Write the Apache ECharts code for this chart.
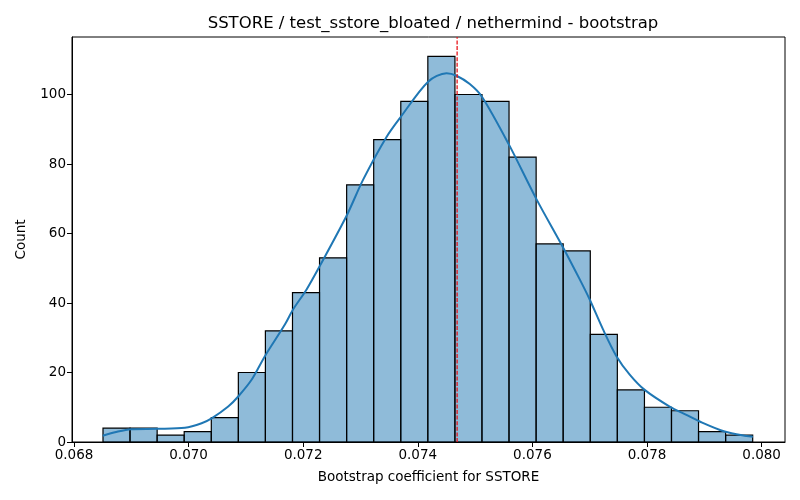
<!DOCTYPE html>
<html>
<head>
<meta charset="utf-8">
<script src="https://cdn.jsdelivr.net/npm/echarts@6/dist/echarts.min.js"></script>
<style>
  html, body { margin: 0; padding: 0; background: #fff; }
  #app { width: 800px; height: 500px; }
</style>
</head>
<body>
<div id="app"></div>
<script>
// bin edges of the histogram (25 edges -> 24 bins)
const binEdges = [
  0.068506, 0.068978, 0.069451, 0.069923, 0.070396, 0.070868, 0.071340,
  0.071813, 0.072285, 0.072758, 0.073230, 0.073703, 0.074175, 0.074648,
  0.075120, 0.075592, 0.076065, 0.076537, 0.077010, 0.077482, 0.077955,
  0.078427, 0.078899, 0.079372, 0.079844
];
const binCounts = [4, 4, 2, 3, 7, 20, 32, 43, 53, 74, 87, 98, 111, 100, 98, 82, 57, 55, 31, 15, 10, 9, 3, 2];

// kde curve
const kdeX = [
  0.068501, 0.068715, 0.068994, 0.069470, 0.069936, 0.070227, 0.070402,
  0.070691, 0.070866, 0.071099, 0.071331, 0.071680, 0.071825, 0.072059,
  0.072291, 0.072757, 0.073046, 0.073454, 0.073704, 0.074180, 0.074501,
  0.074675, 0.074907, 0.075122, 0.075593, 0.076070, 0.076535, 0.076826,
  0.077000, 0.077232, 0.077466, 0.077698, 0.077959, 0.078395, 0.078687,
  0.078919, 0.079355, 0.079733, 0.079848
];
const kdeY = [
  1.8, 2.8, 3.7, 3.8, 4.1, 5.4, 6.8,
  10.2, 13.1, 17.9, 24.7, 33.8, 38.2, 43.9,
  50.7, 65.1, 75.5, 87.8, 93.6, 103.7, 106.1,
  105.4, 103.0, 99.3, 85.5, 69.9, 56.0, 46.8,
  41.0, 32.4, 24.7, 19.4, 15.0, 10.2, 7.8,
  5.9, 3.0, 1.7, 1.5
];

// dashed reference line (mean of the bootstrap)
const meanValue = 0.074686;
const meanLineY = [0, 116.55];

const xTicks = [0.068, 0.070, 0.072, 0.074, 0.076, 0.078, 0.080];
const yTicks = [0, 20, 40, 60, 80, 100];

const font = 'DejaVu Sans';

const histData = binCounts.map((c, i) => [binEdges[i], binEdges[i + 1], c]);
const kdeData = kdeX.map((x, i) => [x, kdeY[i]]);
const meanData = meanLineY.map(y => [meanValue, y]);

const chart = echarts.init(document.getElementById('app'));

chart.setOption({
  animation: false,
  title: {
    text: 'SSTORE / test_sstore_bloated / nethermind - bootstrap',
    left: 428,
    top: 10,
    textAlign: 'center',
    textStyle: { fontFamily: font, fontSize: 16.5, fontWeight: 'normal', color: '#000' }
  },
  grid: {
    left: 72, right: 15, top: 37, bottom: 58,
    show: true, borderColor: '#000', borderWidth: 1
  },
  xAxis: {
    type: 'value',
    min: 0.067965,
    max: 0.080408,
    name: 'Bootstrap coefficient for SSTORE',
    nameLocation: 'middle',
    nameGap: 28,
    nameTextStyle: { fontFamily: font, fontSize: 13.5, color: '#000' },
    splitLine: { show: false },
    axisLine: { lineStyle: { color: '#000' } },
    axisTick: { length: 5, lineStyle: { color: '#000' }, customValues: xTicks },
    axisLabel: {
      fontFamily: font, fontSize: 13.5, color: '#000', margin: 6,
      customValues: xTicks,
      formatter: v => v.toFixed(3)
    }
  },
  yAxis: {
    type: 'value',
    min: 0,
    max: 116.55,
    name: 'Count',
    nameLocation: 'middle',
    nameGap: 44,
    nameTextStyle: { fontFamily: font, fontSize: 13.5, color: '#000' },
    splitLine: { show: false },
    axisLine: { show: true, lineStyle: { color: '#000' } },
    axisTick: { show: true, length: 5, lineStyle: { color: '#000' }, customValues: yTicks },
    axisLabel: { fontFamily: font, fontSize: 13.5, color: '#000', margin: 6, customValues: yTicks }
  },
  series: [
    {
      type: 'custom',
      name: 'hist',
      data: histData,
      encode: { x: [0, 1], y: 2 },
      renderItem: (params, api) => {
        const p0 = api.coord([api.value(0), api.value(2)]);
        const p1 = api.coord([api.value(1), 0]);
        return {
          type: 'rect',
          shape: { x: p0[0], y: p0[1], width: p1[0] - p0[0], height: p1[1] - p0[1] },
          style: { fill: 'rgba(31,119,180,0.5)', stroke: '#000', lineWidth: 1.2 }
        };
      },
      z: 2
    },
    {
      type: 'line',
      name: 'kde',
      data: kdeData,
      smooth: 0.3,
      showSymbol: false,
      lineStyle: { color: '#1f77b4', width: 2 },
      z: 3
    },
    {
      type: 'line',
      name: 'mean',
      data: meanData,
      showSymbol: false,
      silent: true,
      lineStyle: { color: '#e8161b', type: [4, 1.6], width: 1.3 },
      z: 4
    }
  ]
});
</script>
</body>
</html>
